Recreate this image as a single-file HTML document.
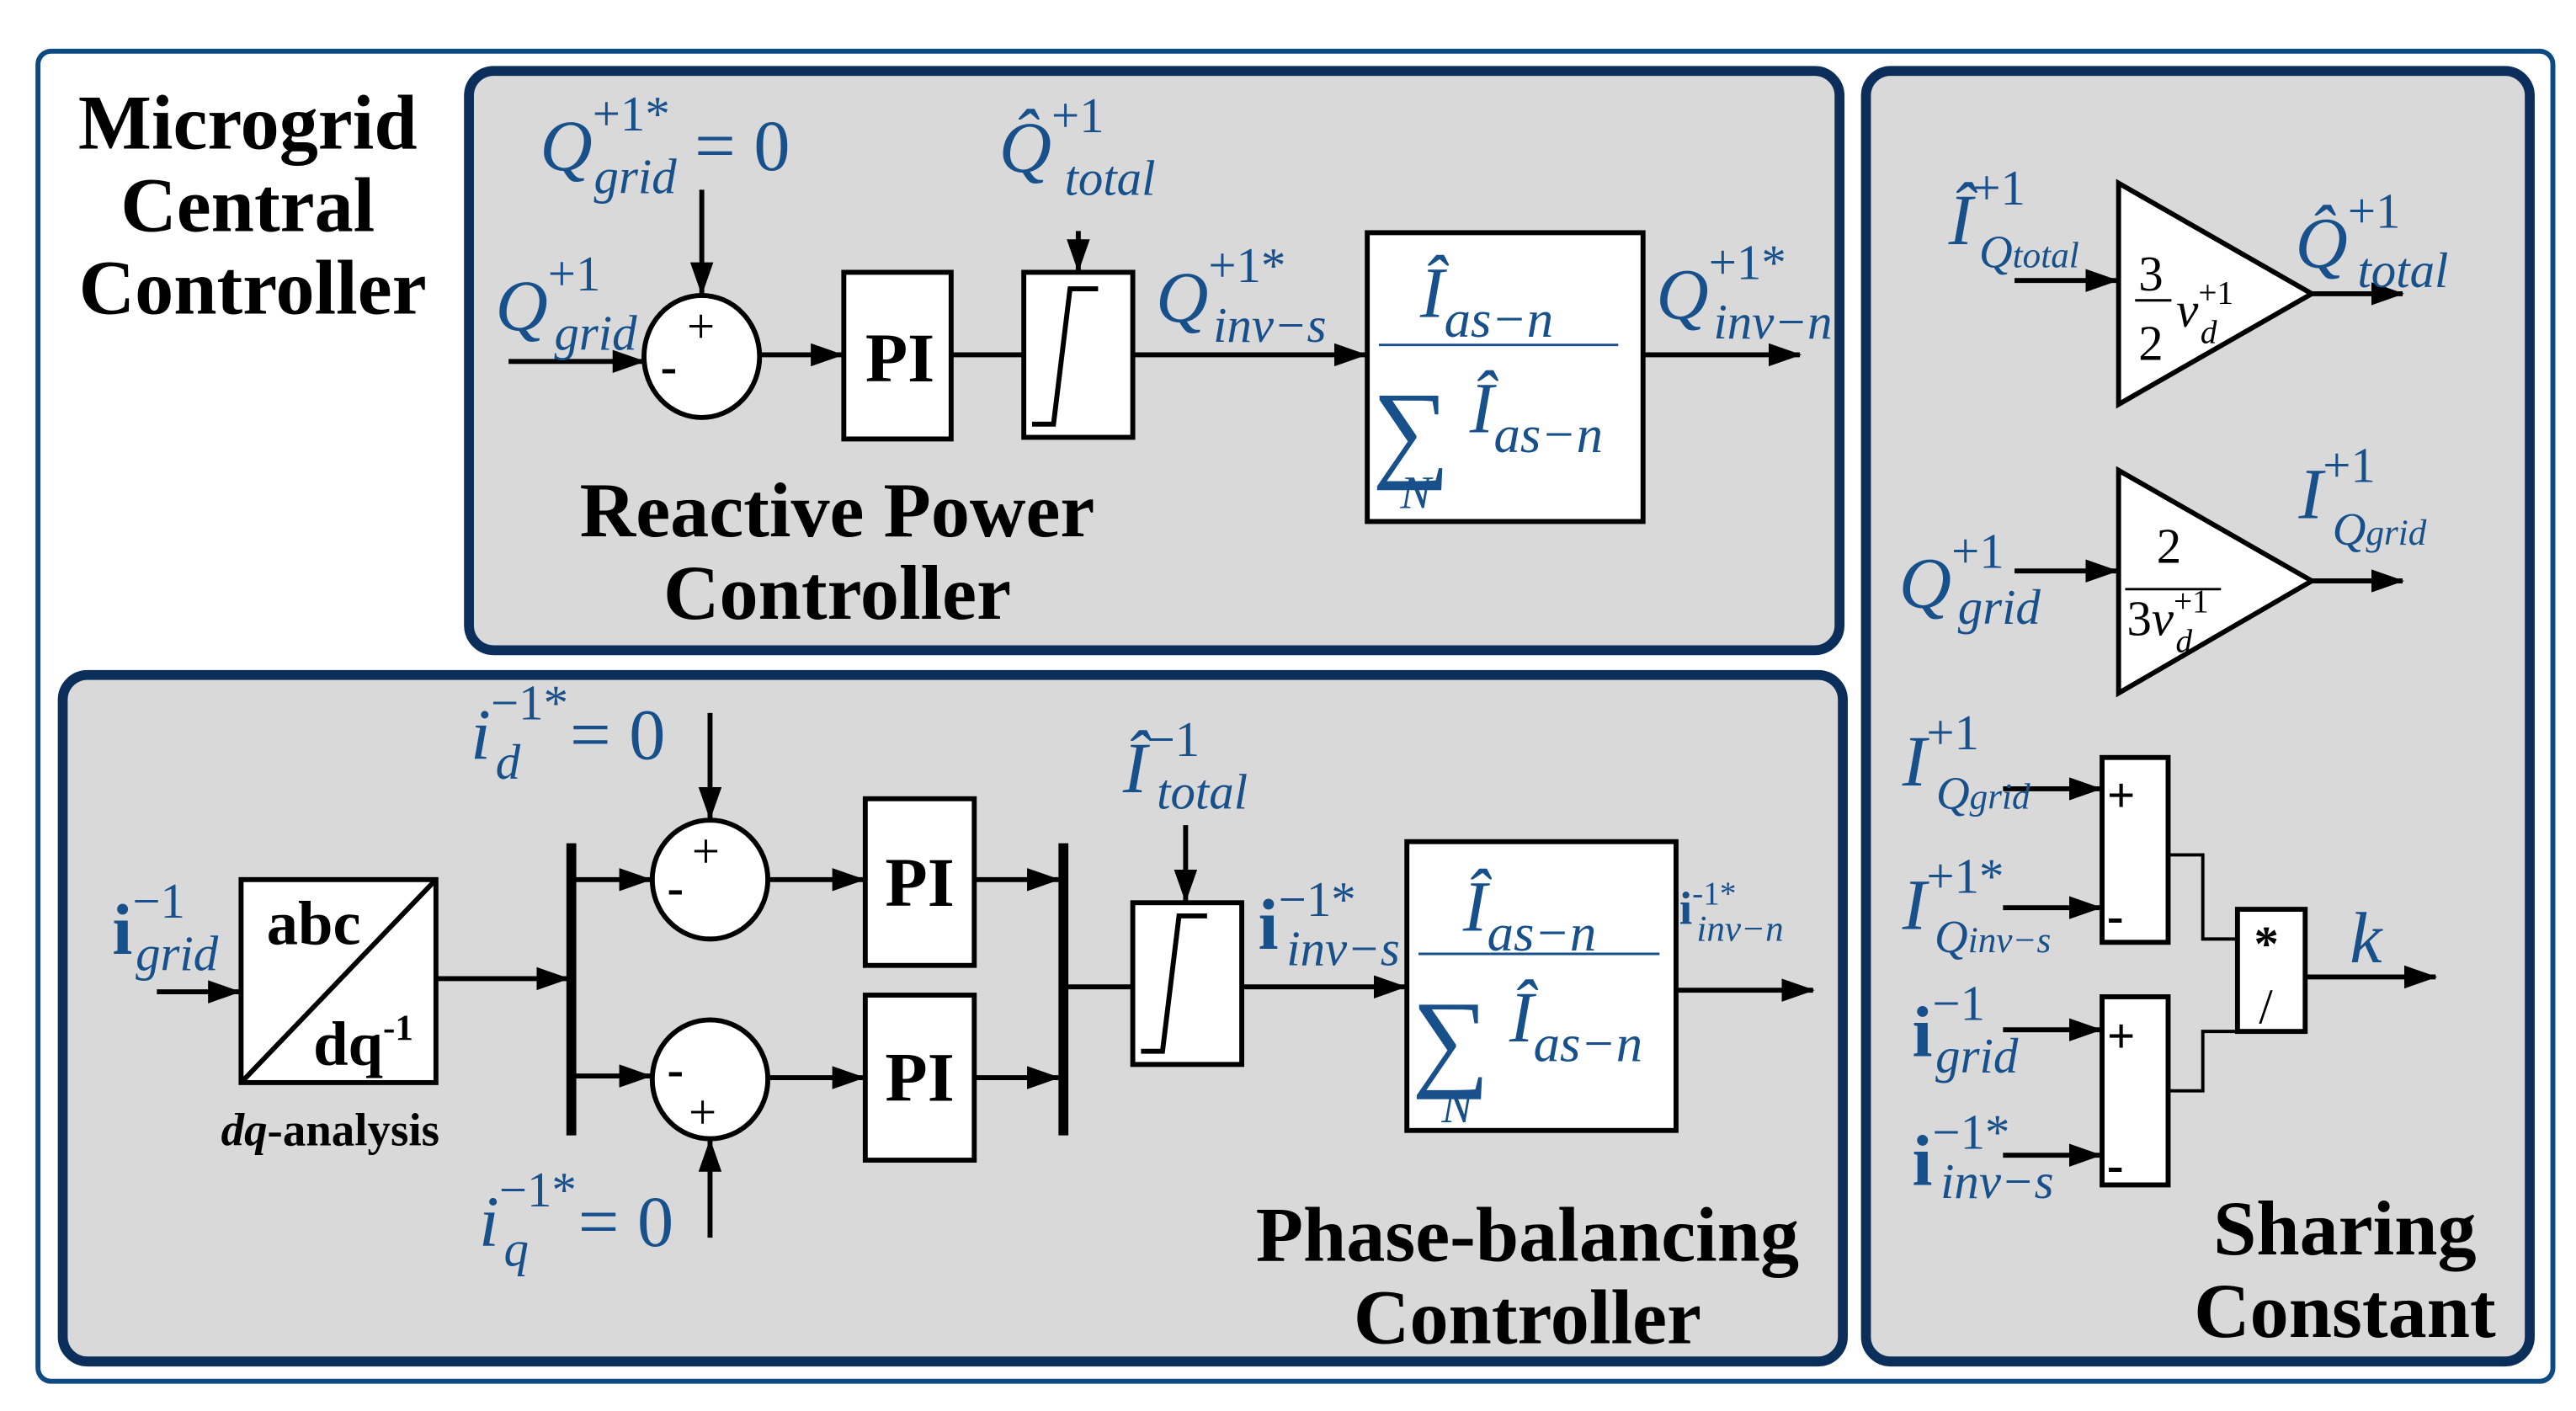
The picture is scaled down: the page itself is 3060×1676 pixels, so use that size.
<!DOCTYPE html>
<html><head><meta charset="utf-8"><style>
html,body{margin:0;padding:0;background:#fff;}
svg{display:block;}
text{font-family:"Liberation Serif",serif;}
.b{fill:#17508a;font-style:italic;}
.u{font-style:normal;}
.t{font-weight:bold;fill:#000;text-anchor:middle;}
</style></head><body>
<svg width="3060" height="1676" viewBox="0 0 1560 855" preserveAspectRatio="none" xmlns="http://www.w3.org/2000/svg">
<defs><marker id="A" markerWidth="20" markerHeight="14" refX="19" refY="7" orient="auto" markerUnits="userSpaceOnUse"><path d="M0,0 L20,7 L0,14z" fill="#000"/></marker></defs>
<rect x="23" y="31" width="1523" height="806" rx="8" fill="#fff" stroke="#0d4a82" stroke-width="3"/>
<g fill="#d9d9d9" stroke="#0b2f5a" stroke-width="6">
<rect x="284" y="43" width="830" height="351" rx="15"/>
<rect x="38" y="409" width="1078" height="416" rx="15"/>
<rect x="1130" y="43" width="402" height="782" rx="15"/>
</g>
<g class="t" font-size="47"><text x="150" y="90">Microgrid</text><text x="150" y="140">Central</text><text x="153" y="190">Controller</text>
<text x="507" y="325">Reactive Power</text><text x="507" y="375">Controller</text>
<text x="925" y="764">Phase-balancing</text><text x="925" y="814">Controller</text>
<text x="1420" y="760">Sharing</text><text x="1420" y="810">Constant</text></g>
<g stroke="#000" stroke-width="3" fill="none">
<line x1="308" y1="219" x2="390" y2="219" marker-end="url(#A)"/>
<line x1="425" y1="115" x2="425" y2="178" marker-end="url(#A)"/>
<ellipse cx="425" cy="216" rx="35" ry="37" fill="#fff"/>
<line x1="460" y1="215" x2="510" y2="215" marker-end="url(#A)"/>
<rect x="511" y="165" width="65" height="101" fill="#fff"/>
<line x1="576" y1="215" x2="620" y2="215"/>
<rect x="620" y="165" width="66" height="100" fill="#fff"/>
<path d="M625,257 H638 L648,175 H665"/>
<line x1="653" y1="140" x2="653" y2="164" marker-end="url(#A)"/>
<line x1="686" y1="215" x2="827" y2="215" marker-end="url(#A)"/>
<rect x="828" y="141" width="167" height="175" fill="#fff"/>
<line x1="995" y1="215" x2="1090" y2="215" marker-end="url(#A)"/>
<line x1="95" y1="601" x2="145" y2="601" marker-end="url(#A)"/>
<rect x="146" y="533" width="118" height="123" fill="#fff"/>
<line x1="146" y1="656" x2="264" y2="533"/>
<line x1="264" y1="593" x2="344" y2="593" marker-end="url(#A)"/>
<line x1="346" y1="511" x2="346" y2="688" stroke-width="6"/>
<line x1="346" y1="533" x2="394" y2="533" marker-end="url(#A)"/>
<line x1="346" y1="652" x2="394" y2="652" marker-end="url(#A)"/>
<ellipse cx="430" cy="533" rx="35" ry="36" fill="#fff"/>
<ellipse cx="430" cy="654" rx="35" ry="36" fill="#fff"/>
<line x1="430" y1="432" x2="430" y2="496" marker-end="url(#A)"/>
<line x1="430" y1="750" x2="430" y2="691" marker-end="url(#A)"/>
<line x1="465" y1="533" x2="523" y2="533" marker-end="url(#A)"/>
<line x1="465" y1="653" x2="523" y2="653" marker-end="url(#A)"/>
<rect x="524" y="484" width="66" height="101" fill="#fff"/>
<rect x="524" y="603" width="66" height="100" fill="#fff"/>
<line x1="590" y1="533" x2="641" y2="533" marker-end="url(#A)"/>
<line x1="590" y1="653" x2="641" y2="653" marker-end="url(#A)"/>
<line x1="644" y1="511" x2="644" y2="688" stroke-width="6"/>
<line x1="644" y1="598" x2="686" y2="598"/>
<rect x="686" y="547" width="66" height="98" fill="#fff"/>
<path d="M691,637 H704 L714,555 H731"/>
<line x1="718" y1="500" x2="718" y2="546" marker-end="url(#A)"/>
<line x1="752" y1="598" x2="851" y2="598" marker-end="url(#A)"/>
<rect x="852" y="510" width="163" height="175" fill="#fff"/>
<line x1="1015" y1="600" x2="1098" y2="600" marker-end="url(#A)"/>
<line x1="1220" y1="170" x2="1282" y2="170" marker-end="url(#A)"/>
<path d="M1283,111 L1283,245 L1400,178z" fill="#fff"/>
<line x1="1400" y1="178" x2="1455" y2="178" marker-end="url(#A)"/>
<line x1="1220" y1="346" x2="1282" y2="346" marker-end="url(#A)"/>
<path d="M1283,285 L1283,420 L1400,352z" fill="#fff"/>
<line x1="1400" y1="352" x2="1455" y2="352" marker-end="url(#A)"/>
<line x1="1213" y1="478" x2="1272" y2="478" marker-end="url(#A)"/>
<line x1="1213" y1="550" x2="1272" y2="550" marker-end="url(#A)"/>
<line x1="1213" y1="624" x2="1272" y2="624" marker-end="url(#A)"/>
<line x1="1213" y1="700" x2="1272" y2="700" marker-end="url(#A)"/>
<rect x="1273" y="459" width="40" height="112" fill="#fff"/>
<rect x="1273" y="604" width="40" height="114" fill="#fff"/>
<path d="M1313,518 H1334 V569 H1355" stroke-width="2"/>
<path d="M1313,661 H1334 V625 H1355" stroke-width="2"/>
<rect x="1355" y="551" width="41" height="74" fill="#fff"/>
<line x1="1396" y1="592" x2="1475" y2="592" marker-end="url(#A)"/>
<line x1="835" y1="209" x2="980" y2="209" stroke="#17508a" stroke-width="1.5"/>
<line x1="859" y1="578" x2="1005" y2="578" stroke="#17508a" stroke-width="1.5"/>
<line x1="1293" y1="182" x2="1315" y2="182" stroke-width="1.5"/>
<line x1="1287" y1="357" x2="1345" y2="357" stroke-width="1.5"/>
</g>
<g font-size="30" fill="#000"><text x="416" y="208">+</text><text x="400" y="232" font-weight="bold">-</text>
<text x="419" y="526">+</text><text x="404" y="548" font-weight="bold">-</text>
<text x="404" y="658" font-weight="bold">-</text><text x="417" y="684">+</text>
<text x="1276" y="492" font-weight="bold">+</text><text x="1276" y="565" font-weight="bold">-</text>
<text x="1276" y="638" font-weight="bold">+</text><text x="1276" y="716" font-weight="bold">-</text>
<text x="1365" y="582" font-weight="bold">*</text><text x="1368" y="620">/</text></g>
<g class="t" font-size="42"><text x="545" y="231">PI</text><text x="557" y="549">PI</text><text x="557" y="667">PI</text>
<text x="190" y="572" font-size="38">abc</text><text x="220" y="645" font-size="38">dq<tspan font-size="22" dy="-15">-1</tspan></text>
<text x="200" y="694" font-size="28"><tspan font-style="italic">dq</tspan>-analysis</text></g>
<g class="b" font-size="44">
<text x="327" y="103">Q<tspan class="u" font-size="30" dy="-24">+1*</tspan><tspan font-size="30" dx="-46" dy="38">grid</tspan><tspan class="u" dy="-14"> = 0</tspan></text>
<text x="605" y="104">Q̂<tspan class="u" font-size="30" dy="-24">+1</tspan><tspan font-size="30" dx="-24" dy="38">total</tspan></text>
<text x="300" y="200">Q<tspan class="u" font-size="30" dy="-24">+1</tspan><tspan font-size="30" dx="-28" dy="36">grid</tspan></text>
<text x="700" y="195">Q<tspan class="u" font-size="30" dy="-24">+1*</tspan><tspan font-size="30" dx="-44" dy="36">inv−s</tspan></text>
<text x="1003" y="193">Q<tspan class="u" font-size="30" dy="-24">+1*</tspan><tspan font-size="30" dx="-44" dy="36">inv−n</tspan></text>
<text x="860" y="192">Î<tspan font-size="32" dy="12">as−n</tspan></text>
<text x="831" y="283" font-size="66" class="u">∑</text><text x="890" y="262">Î<tspan font-size="32" dy="12">as−n</tspan></text>
<text x="848" y="308" font-size="28">N</text>
<text x="886" y="564">Î<tspan font-size="32" dy="12">as−n</tspan></text>
<text x="855" y="652" font-size="66" class="u">∑</text><text x="914" y="631">Î<tspan font-size="32" dy="12">as−n</tspan></text>
<text x="873" y="680" font-size="28">N</text>
<text x="68" y="578" class="u" font-weight="bold">i<tspan font-size="30" font-weight="normal" dy="-22">−1</tspan><tspan font-size="30" font-weight="normal" font-style="italic" dx="-30" dy="32">grid</tspan></text>
<text x="285" y="460">i<tspan class="u" font-size="30" dy="-24">−1*</tspan><tspan font-size="30" dx="-44" dy="36">d</tspan><tspan class="u" dx="30" dy="-12">= 0</tspan></text>
<text x="290" y="755">i<tspan class="u" font-size="30" dy="-24">−1*</tspan><tspan font-size="30" dx="-44" dy="36">q</tspan><tspan class="u" dx="30" dy="-12">= 0</tspan></text>
<text x="680" y="480">Î<tspan class="u" font-size="30" dy="-22">−1</tspan><tspan font-size="30" dx="-26" dy="32">total</tspan></text>
<text x="762" y="575" class="u" font-weight="bold">i<tspan font-size="30" font-weight="normal" dy="-20">−1*</tspan><tspan font-size="30" font-weight="normal" font-style="italic" dx="-42" dy="30">inv−s</tspan></text>
<text x="1017" y="560" font-size="28" class="u" font-weight="bold">i<tspan font-size="20" font-weight="normal" dy="-12">-1*</tspan><tspan font-size="22" font-weight="normal" font-style="italic" dx="-24" dy="22">inv−n</tspan></text>
<text x="1180" y="148">Î<tspan class="u" font-size="30" dy="-24">+1</tspan><tspan font-size="28" dx="-28" dy="38">Q<tspan font-size="22">total</tspan></tspan></text>
<text x="1390" y="162">Q̂<tspan class="u" font-size="30" dy="-24">+1</tspan><tspan font-size="30" dx="-26" dy="36">total</tspan></text>
<text x="1150" y="368">Q<tspan class="u" font-size="30" dy="-24">+1</tspan><tspan font-size="30" dx="-28" dy="34">grid</tspan></text>
<text x="1392" y="314">I<tspan class="u" font-size="30" dy="-22">+1</tspan><tspan font-size="28" dx="-26" dy="38">Q<tspan font-size="22">grid</tspan></tspan></text>
<text x="1152" y="476">I<tspan class="u" font-size="30" dy="-22">+1</tspan><tspan font-size="28" dx="-26" dy="36">Q<tspan font-size="22">grid</tspan></tspan></text>
<text x="1152" y="563">I<tspan class="u" font-size="30" dy="-22">+1*</tspan><tspan font-size="28" dx="-42" dy="36">Q<tspan font-size="22">inv−s</tspan></tspan></text>
<text x="1158" y="640" class="u" font-weight="bold">i<tspan font-size="30" font-weight="normal" dy="-22">−1</tspan><tspan font-size="30" font-weight="normal" font-style="italic" dx="-30" dy="32">grid</tspan></text>
<text x="1158" y="718" class="u" font-weight="bold">i<tspan font-size="30" font-weight="normal" dy="-22">−1*</tspan><tspan font-size="30" font-weight="normal" font-style="italic" dx="-42" dy="30">inv−s</tspan></text>
<text x="1423" y="583">k</text>
</g>
<g fill="#000" font-size="30">
<text x="1295" y="176">3</text><text x="1295" y="218">2</text>
<text x="1318" y="198" font-style="italic">v<tspan font-size="20" dy="-14" font-style="normal">+1</tspan><tspan font-size="20" dx="-20" dy="24">d</tspan></text>
<text x="1306" y="341">2</text>
<text x="1288" y="385">3<tspan font-style="italic">v</tspan><tspan font-size="20" dy="-14">+1</tspan><tspan font-size="20" font-style="italic" dx="-20" dy="24">d</tspan></text>
</g>
</svg>
</body></html>
